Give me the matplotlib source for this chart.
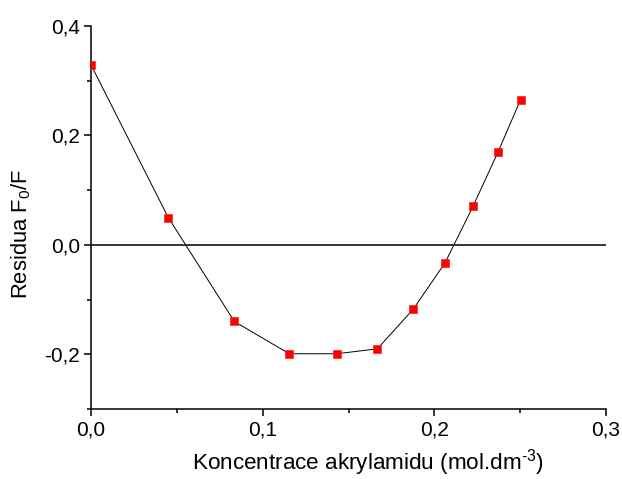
import numpy as np
import matplotlib
matplotlib.use("Agg")
import matplotlib.pyplot as plt
from matplotlib.ticker import FuncFormatter, MultipleLocator

plt.rcParams['font.family'] = ['Liberation Sans', 'DejaVu Sans']
plt.rcParams['mathtext.fontset'] = 'custom'
plt.rcParams['mathtext.rm'] = 'Liberation Sans'
plt.rcParams['mathtext.it'] = 'Liberation Sans'

# concentration of acrylamide (mol.dm-3) and residuals of F0/F
conc = [0.0, 0.045, 0.0835, 0.1155, 0.1432, 0.1668, 0.1876, 0.2062, 0.2226, 0.2370, 0.2502]
resid = [0.329, 0.050, -0.140, -0.199, -0.199, -0.190, -0.118, -0.033, 0.071, 0.169, 0.265]

fig = plt.figure(figsize=(6.22, 4.79), dpi=100)
ax = fig.add_axes([0.1463, 0.1461, 0.828, 0.7996])

ax.axhline(0, color='black', linewidth=1.1, zorder=1)
ax.plot(conc, resid, color='black', linewidth=0.7, zorder=2)
ax.plot(conc, resid, linestyle='none', marker='s', markersize=6,
        markerfacecolor='red', markeredgecolor='#ff2020', markeredgewidth=0.5,
        zorder=3, clip_on=True)

ax.set_xlim(0, 0.3)
ax.set_ylim(-0.3, 0.4)

ax.xaxis.set_major_locator(MultipleLocator(0.1))
ax.xaxis.set_minor_locator(MultipleLocator(0.05))
ax.yaxis.set_major_locator(MultipleLocator(0.2))
ax.yaxis.set_minor_locator(MultipleLocator(0.1))

comma = FuncFormatter(lambda v, p: ('%.1f' % v).replace('.', ',').replace('-0,0', '0,0'))
ax.xaxis.set_major_formatter(comma)
ax.yaxis.set_major_formatter(comma)

for side in ['top', 'right']:
    ax.spines[side].set_visible(False)
for side in ['left', 'bottom']:
    ax.spines[side].set_linewidth(1.1)

ax.tick_params(which='major', direction='out', length=5, width=1.1, labelsize=15, pad=3)
ax.tick_params(which='minor', direction='out', length=2.8, width=1.1)

ax.set_xlabel('Koncentrace akrylamidu (mol.dm$^{\\text{-3}}$)', fontsize=16.2)
ax.set_ylabel('Residua F$_0$/F', fontsize=15.8)
# label positions as in the original (slightly off-centre)
ax.xaxis.label.set_va('baseline')
ax.xaxis.set_label_coords(0.538, -0.158)
ax.yaxis.label.set_va('baseline')
ax.yaxis.set_label_coords(-0.124, 0.456)

fig.savefig('out.png', dpi=100)
